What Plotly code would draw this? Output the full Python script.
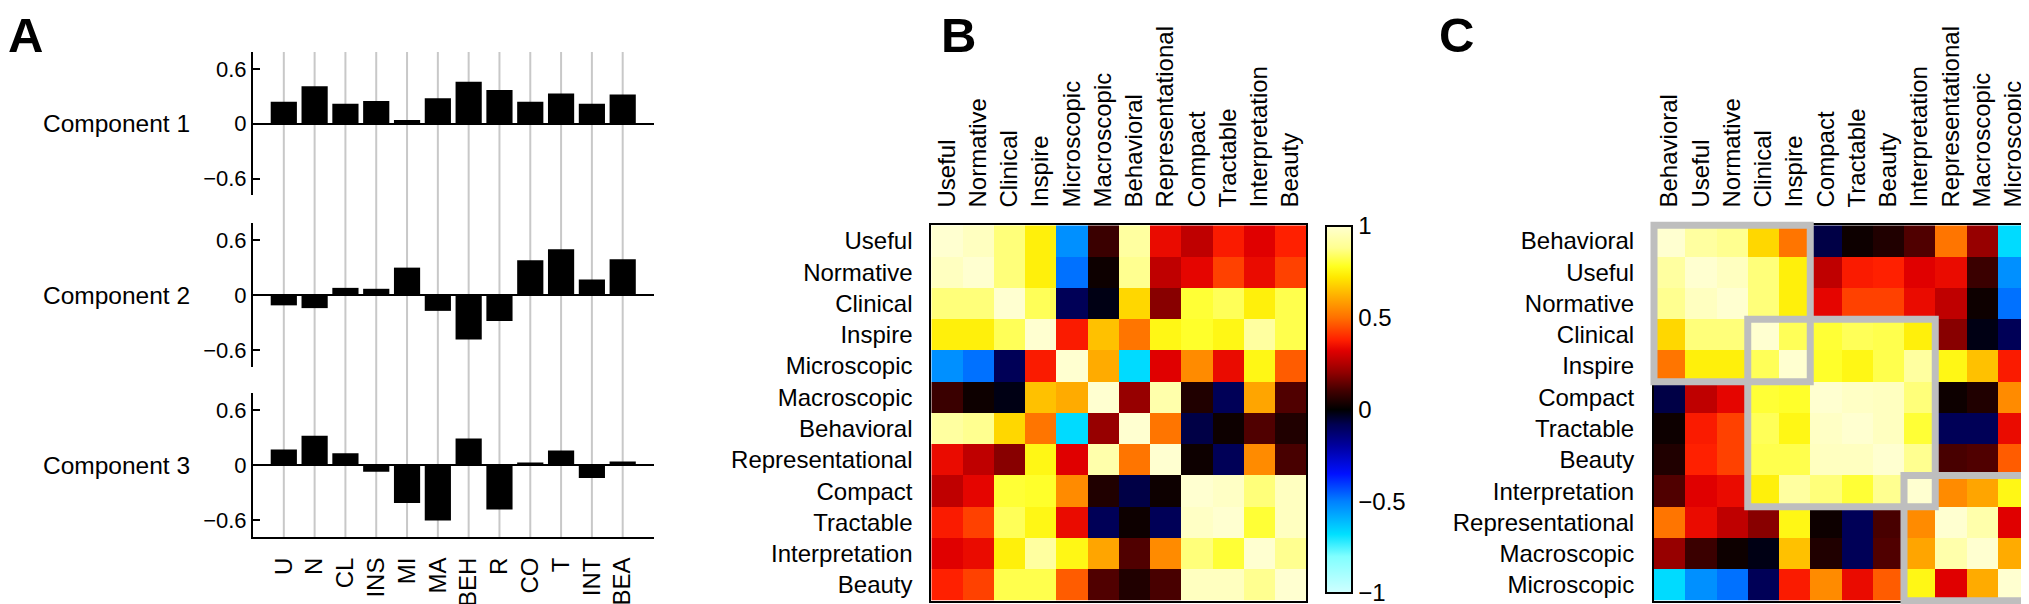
import plotly.graph_objects as go

W, H = 2029, 604
FONT = "Liberation Sans, Arial, Helvetica, sans-serif"

# ---------------- Panel A data ----------------
pca_labels = ["U", "N", "CL", "INS", "MI", "MA", "BEH", "R", "CO", "T", "INT", "BEA"]
component1 = [0.24, 0.41, 0.22, 0.25, 0.04, 0.28, 0.46, 0.37, 0.24, 0.33, 0.22, 0.32]
component2 = [-0.11, -0.14, 0.08, 0.07, 0.30, -0.17, -0.48, -0.28, 0.38, 0.50, 0.17, 0.39]
component3 = [0.17, 0.32, 0.13, -0.07, -0.41, -0.60, 0.29, -0.48, 0.03, 0.16, -0.14, 0.04]
component_names = ["Component 1", "Component 2", "Component 3"]
component_tickvals = [-0.6, 0, 0.6]
component_ticktext = ["\u22120.6", "0", "0.6"]

# ---------------- Panel B data ----------------
attributes = ["Useful", "Normative", "Clinical", "Inspire", "Microscopic", "Macroscopic",
              "Behavioral", "Representational", "Compact", "Tractable", "Interpretation", "Beauty"]
corr_useful = [1.00, 0.97, 0.86, 0.74, -0.53, 0.09, 0.91, 0.34, 0.27, 0.37, 0.32, 0.38]
corr_normative = [0.97, 1.00, 0.86, 0.74, -0.48, 0.02, 0.88, 0.27, 0.33, 0.43, 0.34, 0.43]
corr_clinical = [0.86, 0.86, 1.00, 0.83, -0.09, -0.02, 0.69, 0.19, 0.80, 0.83, 0.74, 0.82]
corr_inspire = [0.74, 0.74, 0.83, 1.00, 0.37, 0.65, 0.51, 0.76, 0.79, 0.76, 0.91, 0.82]
corr_microscopic = [-0.53, -0.48, -0.09, 0.37, 1.00, 0.61, -0.67, 0.32, 0.55, 0.34, 0.76, 0.47]
corr_macroscopic = [0.09, 0.02, -0.02, 0.65, 0.61, 1.00, 0.21, 0.93, 0.05, -0.09, 0.60, 0.12]
corr_behavioral = [0.91, 0.88, 0.69, 0.51, -0.67, 0.21, 1.00, 0.51, -0.07, 0.02, 0.12, 0.05]
corr_representational = [0.34, 0.27, 0.19, 0.76, 0.32, 0.93, 0.51, 1.00, 0.02, -0.09, 0.55, 0.11]
corr_compact = [0.27, 0.33, 0.80, 0.79, 0.55, 0.05, -0.07, 0.02, 1.00, 0.98, 0.86, 0.97]
corr_tractable = [0.37, 0.43, 0.83, 0.76, 0.34, -0.09, 0.02, -0.09, 0.98, 1.00, 0.80, 0.97]
corr_interpretation = [0.32, 0.34, 0.74, 0.91, 0.76, 0.60, 0.12, 0.55, 0.86, 0.80, 1.00, 0.88]
corr_beauty = [0.38, 0.43, 0.82, 0.82, 0.47, 0.12, 0.05, 0.11, 0.97, 0.97, 0.88, 1.00]
corr_matrix = [corr_useful, corr_normative, corr_clinical, corr_inspire, corr_microscopic,
               corr_macroscopic, corr_behavioral, corr_representational, corr_compact,
               corr_tractable, corr_interpretation, corr_beauty]

colorbar_tickvals = [-1, -0.5, 0, 0.5, 1]
colorbar_ticktext = ["\u22121", "\u22120.5", "0", "0.5", "1"]

# ---------------- Panel C data ----------------
cluster_order = ["Behavioral", "Useful", "Normative", "Clinical", "Inspire", "Compact",
                 "Tractable", "Beauty", "Interpretation", "Representational", "Macroscopic", "Microscopic"]
clusters = [
    ["Behavioral", "Useful", "Normative", "Clinical", "Inspire"],
    ["Clinical", "Inspire", "Compact", "Tractable", "Beauty", "Interpretation"],
    ["Interpretation", "Representational", "Macroscopic", "Microscopic"],
]

colorscale = [
    [0.00, "#d0ffff"], [0.10, "#80ffff"], [0.16, "#00e0ff"], [0.25, "#0080ff"],
    [0.325, "#0010ff"], [0.40, "#0000a0"], [0.46, "#000050"], [0.50, "#000000"],
    [0.55, "#400000"], [0.60, "#900000"], [0.66, "#e00000"], [0.69, "#ff2000"],
    [0.75, "#ff7000"], [0.81, "#ffb000"], [0.86, "#ffe800"], [0.89, "#ffff20"],
    [0.94, "#ffff90"], [1.00, "#ffffd0"],
]


def px(x):
    return x / W


def py(y):
    return 1 - y / H


fig = go.Figure()

# ---------------- Panel A ----------------
comp_values = [component1, component2, component3]
comp_y_pix = [(44, 187), (215, 359), (385, 529)]
for k, vals in enumerate(comp_values):
    suffix = "" if k == 0 else str(k + 1)
    fig.add_trace(go.Bar(x=pca_labels, y=vals, xaxis="x" + suffix, yaxis="y" + suffix,
                         marker=dict(color="black", line=dict(width=0)), width=0.85,
                         showlegend=False, hoverinfo="skip"))

axis_common_y = dict(range=[-0.78, 0.785], tickvals=component_tickvals, ticktext=component_ticktext,
                     ticks="inside", ticklen=7, tickwidth=2, tickcolor="black",
                     showline=True, linewidth=2, linecolor="black",
                     zeroline=True, zerolinecolor="black", zerolinewidth=2,
                     showgrid=False, tickfont=dict(size=22, color="black", family=FONT))
layout = {}
for k, (top, bot) in enumerate(comp_y_pix):
    suffix = "" if k == 0 else str(k + 1)
    xa = dict(domain=[px(245), px(645.5)], anchor="y" + suffix, type="category",
              categoryorder="array", categoryarray=pca_labels, range=[-1, 12],
              showgrid=False, zeroline=False)
    if k == 2:
        xa.update(showline=True, linewidth=2, linecolor="black", tickangle=-90,
                  ticks="outside", ticklen=9, tickcolor="rgba(0,0,0,0)",
                  tickfont=dict(size=24, color="black", family=FONT))
    else:
        xa.update(showline=False, showticklabels=False)
    ya = dict(axis_common_y)
    ya.update(domain=[py(bot), py(top)], anchor="x" + suffix)
    layout["xaxis" + suffix] = xa
    layout["yaxis" + suffix] = ya

shapes = []
for lab in pca_labels:
    shapes.append(dict(type="line", xref="x3", yref="paper", x0=lab, x1=lab,
                       y0=py(529), y1=py(44), line=dict(color="#c8c8c8", width=2), layer="below"))

annotations = []
for k, name in enumerate(component_names):
    suffix = "" if k == 0 else str(k + 1)
    annotations.append(dict(text=name, xref="paper", x=px(184), xanchor="right",
                            yref="y" + suffix, y=0, yanchor="middle", showarrow=False,
                            font=dict(size=24.5, color="black", family=FONT)))

# ---------------- Panel B ----------------
fig.add_trace(go.Heatmap(z=corr_matrix, x=attributes, y=attributes, xaxis="x4", yaxis="y4",
                         colorscale=colorscale, zmin=-1, zmax=1, hoverinfo="skip",
                         colorbar=dict(x=px(1318), xanchor="left", xpad=0, ypad=0,
                                       y=py(401.5), yanchor="middle", lenmode="pixels", len=367,
                                       thicknessmode="pixels", thickness=26,
                                       outlinewidth=2, outlinecolor="black",
                                       tickvals=colorbar_tickvals, ticktext=colorbar_ticktext,
                                       ticks="", tickfont=dict(size=24, color="black", family=FONT))))
heat_x_common = dict(side="top", tickangle=-90, showline=True, mirror=True, linecolor="black",
                     linewidth=2, ticks="outside", ticklen=11, tickcolor="rgba(0,0,0,0)",
                     showgrid=False, zeroline=False, tickfont=dict(size=24, color="black", family=FONT))
heat_y_common = dict(autorange="reversed", showline=True, mirror=True, linecolor="black",
                     linewidth=2, ticks="outside", ticklen=12, tickcolor="rgba(0,0,0,0)",
                     showgrid=False, zeroline=False, tickfont=dict(size=24, color="black", family=FONT))
layout["xaxis4"] = dict(heat_x_common, domain=[px(923.3), px(1298.3)], anchor="y4")
layout["yaxis4"] = dict(heat_y_common, domain=[py(592.7), py(217.3)], anchor="x4")

# ---------------- Panel C ----------------
idx = [attributes.index(a) for a in cluster_order]
corr_reordered = [[corr_matrix[i][j] for j in idx] for i in idx]
fig.add_trace(go.Heatmap(z=corr_reordered, x=cluster_order, y=cluster_order, xaxis="x5", yaxis="y5",
                         colorscale=colorscale, zmin=-1, zmax=1, showscale=False, hoverinfo="skip"))
layout["xaxis5"] = dict(heat_x_common, domain=[px(1646), px(2021)], anchor="y5")
layout["yaxis5"] = dict(heat_y_common, domain=[py(592.7), py(217.3)], anchor="x5", ticklen=13)

n = len(cluster_order)
for cl in clusters:
    i0 = cluster_order.index(cl[0])
    i1 = cluster_order.index(cl[-1])
    shapes.append(dict(type="rect", xref="x5 domain", yref="y5 domain",
                       x0=i0 / n, x1=(i1 + 1) / n, y0=1 - (i1 + 1) / n, y1=1 - i0 / n,
                       line=dict(color="#bebebe", width=7), fillcolor="rgba(0,0,0,0)", layer="above"))

# Panel letters
for letter, lx in [("A", 0), ("B", 933), ("C", 1431)]:
    annotations.append(dict(text="<b>%s</b>" % letter, xref="paper", yref="paper",
                            x=px(lx), y=1, xanchor="left", yanchor="top", showarrow=False,
                            borderpad=0, borderwidth=0,
                            font=dict(size=49, color="black", family=FONT)))

fig.update_layout(width=W, height=H, autosize=False, margin=dict(l=0, r=0, t=0, b=0),
                  paper_bgcolor="white", plot_bgcolor="rgba(0,0,0,0)",
                  font=dict(family=FONT, color="black"), bargap=0.15,
                  shapes=shapes, annotations=annotations, **layout)

fig.write_html("out.html", config={"displayModeBar": False})
